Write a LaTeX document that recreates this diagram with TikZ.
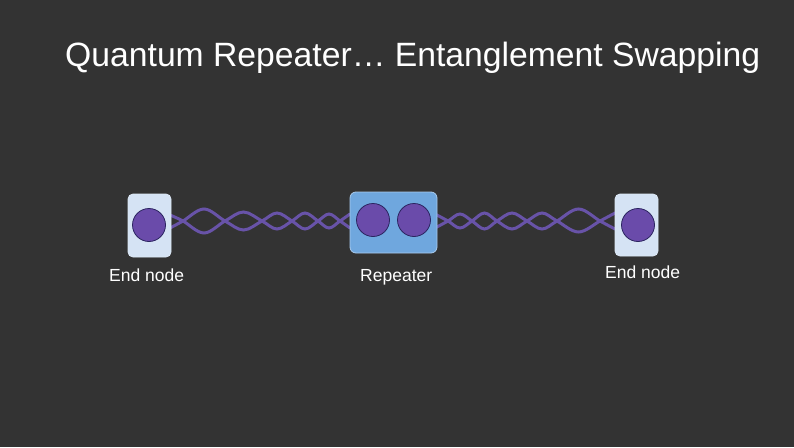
\documentclass[tikz,border=0pt]{standalone}
\usepackage{fontspec}
\setmainfont{Liberation Sans}
\definecolor{bgc}{HTML}{333333}
\definecolor{lightbox}{HTML}{D5E3F4}
\definecolor{repbox}{HTML}{6FA7DE}
\definecolor{repedge}{HTML}{A9CBEE}
\definecolor{qubit}{HTML}{6A4BAA}
\definecolor{qubitedge}{HTML}{2B2460}
\definecolor{wave}{HTML}{6853A8}
\begin{document}
\begin{tikzpicture}[x=1pt,y=-1pt,
  endbox/.style={draw=lightbox!80!white,fill=lightbox,rounded corners=5pt,line width=0.8pt},
  reptbox/.style={draw=repedge,fill=repbox,rounded corners=6pt,line width=0.8pt},
  qb/.style={circle,draw=qubitedge,fill=qubit,line width=0.8pt,minimum size=33pt,inner sep=0pt},
  strand/.style={draw=wave,line width=3pt,line cap=round},
  lbl/.style={text=white,font=\fontsize{17.5}{20}\selectfont,anchor=base west,inner sep=0pt}]
\fill[bgc] (0,0) rectangle (794,447);
\useasboundingbox (0,0) rectangle (794,447);
\node[text=white,font=\fontsize{33.7}{40}\selectfont,anchor=base west,inner sep=0pt] (title) at (65,66) {Quantum Repeater… Entanglement Swapping};
% waves (left)
\draw[strand] plot[smooth,tension=0.6] coordinates {(170,215) (183,221) (204,233) (225,221) (243.5,212) (262,221) (277,229) (292,221) (305,213) (318,221) (329,228) (340,221) (350,214)};
\draw[strand] plot[smooth,tension=0.6] coordinates {(170,228) (183,221) (204,209) (225,221) (243.5,230) (262,221) (277,213) (292,221) (305,229) (318,221) (329,214) (340,221) (350,228)};
% waves (right)
\draw[strand] plot[smooth,tension=0.6] coordinates {(435,214) (448,221) (460,228) (472,221) (484.5,213) (497,221) (512,229) (527,221) (542,213) (557,221) (578.5,232) (600,221) (615,213)};
\draw[strand] plot[smooth,tension=0.6] coordinates {(435,228) (448,221) (460,214) (472,221) (484.5,229) (497,221) (512,213) (527,221) (542,229) (557,221) (578.5,209) (600,221) (615,229)};
% boxes
\draw[endbox] (128,194) rectangle (171,257);
\draw[reptbox] (350,192) rectangle (437,253);
\draw[endbox] (615,194) rectangle (658,256);
\node[qb] (q1) at (149,225) {};
\node[qb] (q2) at (373,220) {};
\node[qb] (q3) at (414,220) {};
\node[qb] (q4) at (638,225) {};
\node[lbl] (l1) at (109,281) {End node};
\node[lbl] (l2) at (360,281) {Repeater};
\node[lbl] (l3) at (605,278) {End node};
\end{tikzpicture}
\end{document}
